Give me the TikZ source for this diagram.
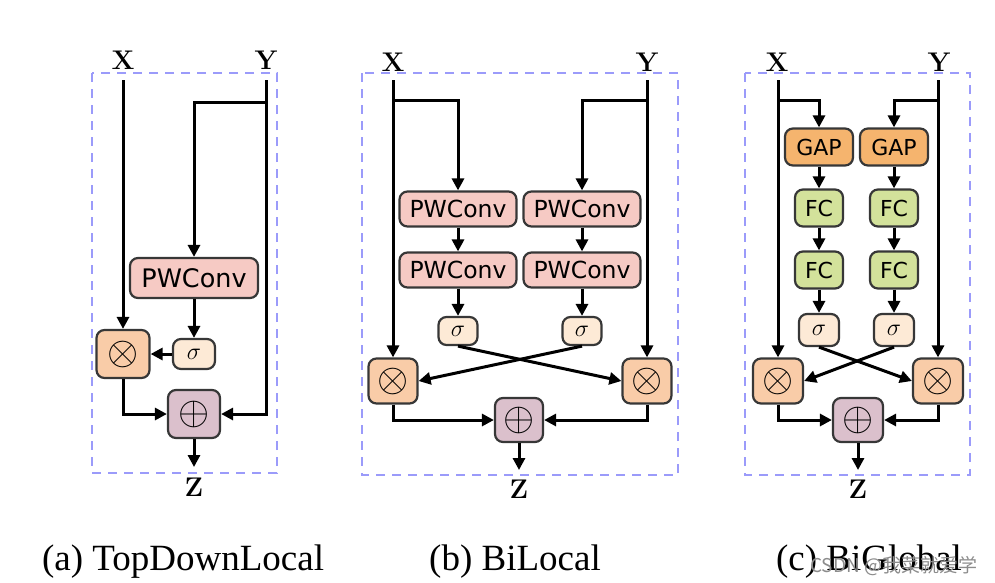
\RequirePackage{fix-cm}
\documentclass[tikz,border=0pt]{standalone}
\usepackage{fontspec}
\usetikzlibrary{arrows.meta}
\newfontfamily\boxfont{DejaVu Sans}
\newfontfamily\capfont{Liberation Serif}
\newfontfamily\cjkfont{Noto Sans CJK SC}
\definecolor{pwcol}{RGB}{246,202,196}
\definecolor{sigcol}{RGB}{253,234,214}
\definecolor{mulcol}{RGB}{249,204,168}
\definecolor{addcol}{RGB}{219,192,204}
\definecolor{gapcol}{RGB}{245,180,110}
\definecolor{fccol}{RGB}{211,226,155}
\definecolor{dashcol}{RGB}{155,155,250}
\definecolor{bordcol}{RGB}{55,55,55}
\tikzset{
  x=1pt, y=-1pt,
  blk/.style={draw=bordcol, line width=2.2pt, rounded corners=8pt, inner sep=0pt},
  pwbox/.style={blk, fill=pwcol, font=\boxfont\fontsize{#1}{#1}\selectfont},
  gapbox/.style={blk, fill=gapcol, minimum width=68pt, minimum height=37pt, font=\boxfont\fontsize{22}{22}\selectfont},
  fcbox/.style={blk, fill=fccol, minimum width=48pt, minimum height=37pt, font=\boxfont\fontsize{22}{22}\selectfont},
  sigbox/.style={blk, fill=sigcol, font=\fontsize{24}{24}\selectfont},
  mulbox/.style={blk, fill=mulcol, font=\fontsize{40}{40}\selectfont},
  addbox/.style={blk, fill=addcol, font=\fontsize{40}{40}\selectfont},
  lbl/.style={font=\bfseries\fontsize{27}{27}\selectfont, inner sep=0pt},
  captext/.style={font=\capfont\fontsize{37}{37}\selectfont, anchor=base, inner sep=0pt},
  dbox/.style={draw=dashcol, line width=2.5pt, dash pattern=on 9pt off 7pt},
  ln/.style={line width=3pt},
  arr/.style={ln, -{Triangle[length=12pt,width=12pt]}},
}
\begin{document}
\begin{tikzpicture}
\useasboundingbox (0,0) rectangle (995,582);
% ---------------- dashed frames
\draw[dbox] (92,73) rectangle (277,473);
\draw[dbox] (362,73) rectangle (678,475);
\draw[dbox] (745,73) rectangle (970,475);

% ---------------- (a) TopDownLocal
\node[lbl] (aX) at (123,60) {X};
\node[lbl] (aY) at (266,60) {Y};
\node[lbl] (aZ) at (194,487) {Z};
\coordinate (aXs) at (123,80);
\coordinate (aYs) at (266,80);
\coordinate (aYb) at (266,102);
\coordinate (aZe) at (194,467);
\node[pwbox=25.5, minimum width=128pt, minimum height=40pt] (aPW) at (194,278) {PWConv};
\node[sigbox, minimum width=42pt, minimum height=30pt] (aS) at (194,354) {$\sigma$};
\node[mulbox, minimum width=53pt, minimum height=48pt] (aM) at (123,354) {$\otimes$};
\node[addbox, minimum width=52pt, minimum height=48pt] (aP) at (194,414) {$\oplus$};
\draw[arr] (aXs) -- (aM.north);
\draw[arr] (aYs) |- (aP.east);
\draw[arr] (aYb) -| (aPW.north);
\draw[arr] (aPW.south) -- (aS.north);
\draw[arr] (aS.west) -- (aM.east);
\draw[arr] (aM.south) |- (aP.west);
\draw[arr] (aP.south) -- (aZe);

% ---------------- (b) BiLocal
\node[lbl] (bX) at (393,62) {X};
\node[lbl] (bY) at (647,62) {Y};
\node[lbl] (bZ) at (519,489) {Z};
\coordinate (bXs) at (393,80);
\coordinate (bYs) at (647,80);
\coordinate (bXb) at (393,100);
\coordinate (bYb) at (647,100);
\coordinate (bZe) at (519,470);
\node[pwbox=23.5, minimum width=117pt, minimum height=35pt] (bPW1) at (458,209) {PWConv};
\node[pwbox=23.5, minimum width=117pt, minimum height=35pt] (bPW2) at (582,209) {PWConv};
\node[pwbox=23.5, minimum width=117pt, minimum height=35pt] (bPW3) at (458,270) {PWConv};
\node[pwbox=23.5, minimum width=117pt, minimum height=35pt] (bPW4) at (582,270) {PWConv};
\node[sigbox, minimum width=39pt, minimum height=28pt] (bS1) at (458,331) {$\sigma$};
\node[sigbox, minimum width=39pt, minimum height=28pt] (bS2) at (582,331) {$\sigma$};
\node[mulbox, minimum width=49pt, minimum height=45pt] (bM1) at (393,381) {$\otimes$};
\node[mulbox, minimum width=49pt, minimum height=45pt] (bM2) at (647,381) {$\otimes$};
\node[addbox, minimum width=48pt, minimum height=44pt] (bP) at (519,420) {$\oplus$};
\draw[arr] (bXs) -- (bM1.north);
\draw[arr] (bYs) -- (bM2.north);
\draw[arr] (bXb) -| (bPW1.north);
\draw[arr] (bYb) -| (bPW2.north);
\draw[arr] (bPW1) -- (bPW3);
\draw[arr] (bPW2) -- (bPW4);
\draw[arr] (bPW3) -- (bS1);
\draw[arr] (bPW4) -- (bS2);
\draw[arr] (bS1.south) -- (bM2.west);
\draw[arr] (bS2.south) -- (bM1.east);
\draw[arr] (bM1.south) |- (bP.west);
\draw[arr] (bM2.south) |- (bP.east);
\draw[arr] (bP.south) -- (bZe);

% ---------------- (c) BiGlobal
\node[lbl] (cX) at (777,62) {X};
\node[lbl] (cY) at (939,62) {Y};
\node[lbl] (cZ) at (858,489) {Z};
\coordinate (cXs) at (778,80);
\coordinate (cYs) at (938,80);
\coordinate (cXb) at (778,100);
\coordinate (cYb) at (938,100);
\coordinate (cZe) at (858,470);
\node[gapbox] (cG1) at (819,147) {GAP};
\node[gapbox] (cG2) at (894,147) {GAP};
\node[fcbox] (cF1) at (819,208) {FC};
\node[fcbox] (cF2) at (894,208) {FC};
\node[fcbox] (cF3) at (819,270) {FC};
\node[fcbox] (cF4) at (894,270) {FC};
\node[sigbox, minimum width=40pt, minimum height=32pt] (cS1) at (819,330) {$\sigma$};
\node[sigbox, minimum width=40pt, minimum height=32pt] (cS2) at (894,330) {$\sigma$};
\node[mulbox, minimum width=50pt, minimum height=45pt] (cM1) at (778,381) {$\otimes$};
\node[mulbox, minimum width=50pt, minimum height=45pt] (cM2) at (938,381) {$\otimes$};
\node[addbox, minimum width=50pt, minimum height=44pt] (cP) at (858,420) {$\oplus$};
\draw[arr] (cXs) -- (cM1.north);
\draw[arr] (cYs) -- (cM2.north);
\draw[arr] (cXb) -| (cG1.north);
\draw[arr] (cYb) -| (cG2.north);
\draw[arr] (cG1) -- (cF1);
\draw[arr] (cG2) -- (cF2);
\draw[arr] (cF1) -- (cF3);
\draw[arr] (cF2) -- (cF4);
\draw[arr] (cF3) -- (cS1);
\draw[arr] (cF4) -- (cS2);
\draw[arr] (cS1.south) -- (cM2.west);
\draw[arr] (cS2.south) -- (cM1.east);
\draw[arr] (cM1.south) |- (cP.west);
\draw[arr] (cM2.south) |- (cP.east);
\draw[arr] (cP.south) -- (cZe);

% ---------------- captions
\node[captext] (capA) at (183,570) {(a) TopDownLocal};
\node[captext] (capB) at (515,570) {(b) BiLocal};
\node[captext] (capC) at (869,570) {(c) BiGlobal};
\node[font=\cjkfont\fontsize{19}{19}\selectfont, text=black!45, anchor=base west, inner sep=0pt] (wm) at (810,572) {CSDN @我菜就爱学};
\end{tikzpicture}
\end{document}
